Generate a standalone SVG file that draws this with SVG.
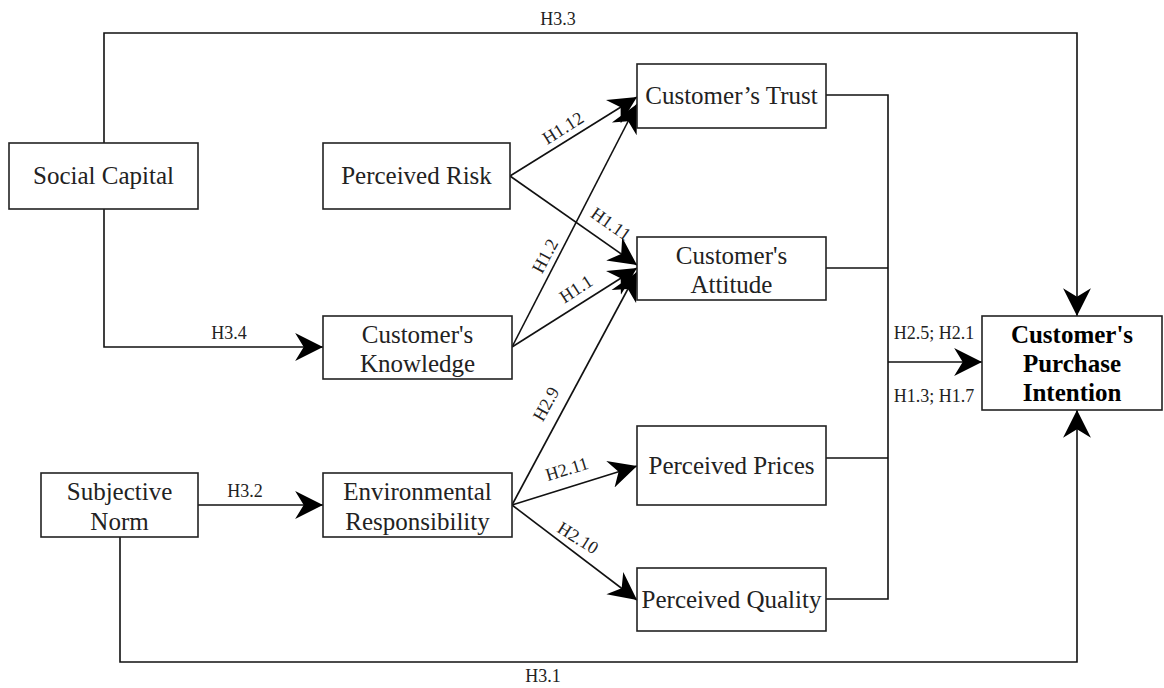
<svg xmlns="http://www.w3.org/2000/svg" width="1164" height="688" viewBox="0 0 1164 688">
<style>
.box{fill:#fff;stroke:#222;stroke-width:1.6}
.t{font-family:"Liberation Serif","Times New Roman",serif;font-size:25px;fill:#222;text-anchor:middle}
.b{font-weight:bold;fill:#000}
.lbl{font-family:"Liberation Serif","Times New Roman",serif;font-size:18px;fill:#222;text-anchor:middle}
.c{fill:none;stroke:#111;stroke-width:1.6}
.a{marker-end:url(#arr)}
</style>
<defs>
<marker id="arr" markerUnits="userSpaceOnUse" markerWidth="30" markerHeight="30" viewBox="0 -14 28 28" refX="26" refY="0" orient="auto">
<path d="M0,-13 L26,0 L0,13 L8,0 Z" fill="#000"/>
</marker>
</defs>
<rect width="1164" height="688" fill="#fff"/>
<g id="connectors">
<path class="c a" d="M104,143 V33 H1077 V316"/>
<path class="c a" d="M104,209 V347 H323"/>
<path class="c a" d="M120,537 V662 H1077 V410"/>
<path class="c a" d="M198,505 H323"/>
<path class="c a" d="M510,176 L637,97"/>
<path class="c a" d="M510,176 L637,265"/>
<path class="c a" d="M512,347 L637,104"/>
<path class="c a" d="M512,347 L637,268"/>
<path class="c a" d="M512,505 L637,272"/>
<path class="c a" d="M512,505 L637,466"/>
<path class="c a" d="M512,505 L637,600"/>
<path class="c" d="M826,95 H888 V599 H826"/>
<path class="c" d="M826,268 H888"/>
<path class="c" d="M826,458 H888"/>
<path class="c a" d="M888,362 H982"/>
<text class="lbl" x="558" y="25">H3.3</text>
<text class="lbl" x="229" y="339">H3.4</text>
<text class="lbl" x="245" y="497">H3.2</text>
<text class="lbl" x="543" y="682">H3.1</text>
<text class="lbl" x="934" y="339">H2.5; H2.1</text>
<text class="lbl" x="934" y="402">H1.3; H1.7</text>
<text class="lbl" transform="translate(563,128) rotate(-32)" y="6">H1.12</text>
<text class="lbl" transform="translate(611,224) rotate(35)" y="6">H1.11</text>
<text class="lbl" transform="translate(545,256) rotate(-62)" y="6">H1.2</text>
<text class="lbl" transform="translate(576,289) rotate(-33)" y="6">H1.1</text>
<text class="lbl" transform="translate(546,404) rotate(-61)" y="6">H2.9</text>
<text class="lbl" transform="translate(567,469) rotate(-17)" y="6">H2.11</text>
<text class="lbl" transform="translate(578,538) rotate(32)" y="6">H2.10</text>
</g>
<g id="social-capital"><rect class="box" x="9" y="143" width="189" height="66"/><text class="t" x="103.5" y="184">Social Capital</text></g>
<g id="perceived-risk"><rect class="box" x="323" y="143" width="187" height="66"/><text class="t" x="416.5" y="184">Perceived Risk</text></g>
<g id="customers-knowledge"><rect class="box" x="323" y="316" width="189" height="63"/><text class="t" x="417.5" y="343">Customer's</text><text class="t" x="417.5" y="372">Knowledge</text></g>
<g id="subjective-norm"><rect class="box" x="41" y="473" width="157" height="64"/><text class="t" x="119.5" y="500">Subjective</text><text class="t" x="119.5" y="530">Norm</text></g>
<g id="environmental-responsibility"><rect class="box" x="323" y="473" width="189" height="64"/><text class="t" x="417.5" y="500">Environmental</text><text class="t" x="417.5" y="530">Responsibility</text></g>
<g id="customers-trust"><rect class="box" x="637" y="64" width="189" height="64"/><text class="t" x="731.5" y="104">Customer’s Trust</text></g>
<g id="customers-attitude"><rect class="box" x="637" y="237" width="189" height="63"/><text class="t" x="731.5" y="264">Customer's</text><text class="t" x="731.5" y="293">Attitude</text></g>
<g id="perceived-prices"><rect class="box" x="637" y="426" width="189" height="79"/><text class="t" x="731.5" y="474">Perceived Prices</text></g>
<g id="perceived-quality"><rect class="box" x="637" y="568" width="189" height="63"/><text class="t" x="731.5" y="608">Perceived Quality</text></g>
<g id="purchase-intention"><rect class="box" x="982" y="316" width="180" height="94"/><text class="t b" x="1072" y="343">Customer's</text><text class="t b" x="1072" y="372">Purchase</text><text class="t b" x="1072" y="401">Intention</text></g>
</svg>
